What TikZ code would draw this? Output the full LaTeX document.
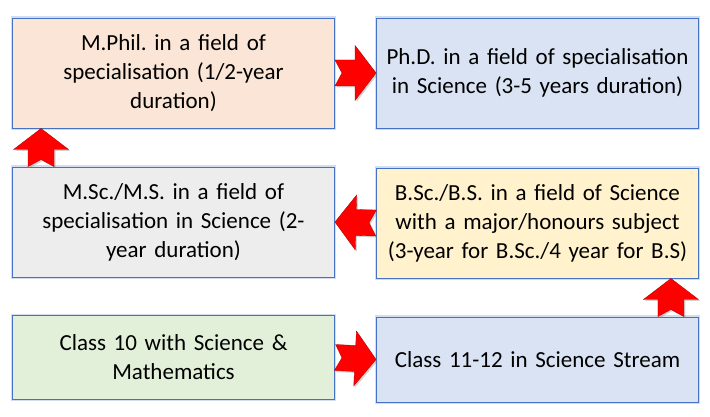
\documentclass[tikz,border=0pt]{standalone}
\usepackage{fontspec}
\setmainfont{Carlito}
\usetikzlibrary{calc,shadows}
\definecolor{bordblue}{HTML}{4472C4}
\definecolor{glowblue}{HTML}{B4C7E7}
\definecolor{peach}{HTML}{FBE5D6}
\definecolor{paleblue}{HTML}{DAE3F3}
\definecolor{palegrey}{HTML}{EDEDED}
\definecolor{paleyellow}{HTML}{FFF2CC}
\definecolor{palegreen}{HTML}{E2F0D9}
\definecolor{arrred}{HTML}{FF0000}
\tikzset{
  stagebox/.style={draw=bordblue, line width=0.9pt, minimum width=322pt, minimum height=110pt,
    text width=318pt, align=center, font=\fontsize{23}{29}\selectfont\frenchspacing, inner sep=0pt,
    preaction={draw=glowblue, line width=3.5pt, opacity=0.6}},
  arrowfill/.style={fill=arrred, draw=arrred!70!black, line width=0.3pt,
    drop shadow={opacity=0.35, shadow xshift=1.5pt, shadow yshift=-1.5pt}}
}
% #1 tail point, #2 tip point
\newcommand{\notcharrow}[2]{%
  \path[arrowfill]
    ($#1!13pt!90:#2$) -- ($($#2!21pt!#1$)!13pt!90:#2$) -- ($($#2!21pt!#1$)!27.5pt!90:#2$)
    -- #2 -- ($($#2!21pt!#1$)!27.5pt!-90:#2$) -- ($($#2!21pt!#1$)!13pt!-90:#2$)
    -- ($#1!13pt!-90:#2$) -- ($#1!7pt!#2$) -- cycle;}
\begin{document}
\begin{tikzpicture}[x=1pt,y=1pt]
\useasboundingbox[fill=white] (0,0) rectangle (710,417);
\node[stagebox, fill=peach] (mphil) at (173.5,344) {M.Phil. in a field of\\ specialisation (1/2-year\\ duration)};
\node[stagebox, fill=paleblue] (phd) at (537.5,344) {Ph.D. in a field of specialisation\\ in Science (3-5 years duration)};
\node[stagebox, fill=palegrey] (msc) at (173.5,195) {M.Sc./M.S. in a field of\\ specialisation in Science (2-\\ year duration)};
\node[stagebox, fill=paleyellow] (bsc) at (537.5,194) {B.Sc./B.S. in a field of Science\\ with a major/honours subject\\ (3-year for B.Sc./4 year for B.S)};
\node[stagebox, fill=palegreen, minimum height=84pt] (c10) at (173.5,59.5) {Class 10 with Science \&\\ Mathematics};
\node[stagebox, fill=paleblue, minimum height=85pt] (c11) at (537.5,57.5) {Class 11-12 in Science Stream};
\coordinate (a2s) at ($(msc.north west)+(29,0)$);
\coordinate (a2e) at ($(mphil.south west)+(29,0)$);
\coordinate (a4s) at ($(c11.north east)+(-28,0)$);
\coordinate (a4e) at ($(bsc.south east)+(-28,0)$);
\notcharrow{(mphil.east)}{(phd.west)}
\notcharrow{(a2s)}{(a2e)}
\notcharrow{(bsc.west)}{(msc.east)}
\notcharrow{(c10.east)}{(c11.west)}
\notcharrow{(a4s)}{(a4e)}
\end{tikzpicture}
\end{document}
